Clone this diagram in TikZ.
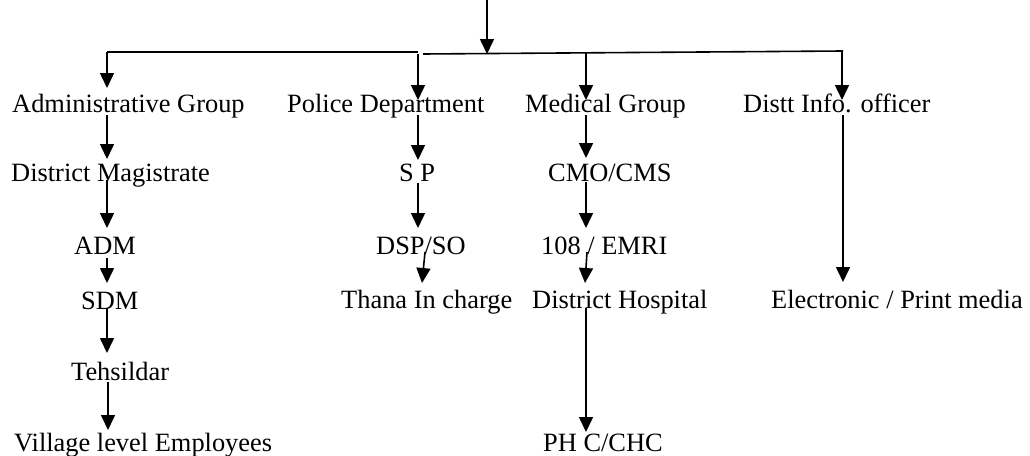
\documentclass[tikz,border=0pt]{standalone}
\usepackage{fontspec}
\setmainfont{Liberation Serif}
\usetikzlibrary{arrows.meta}
\tikzset{
  lbl/.style={anchor=base west, inner sep=0pt, font=\fontsize{26.4}{30}\selectfont},
  arr/.style={-{Triangle[length=15pt,width=14pt]}, line width=1.6pt},
  bar/.style={line width=1.6pt}
}
\begin{document}
\begin{tikzpicture}[x=1pt,y=-1pt]
\useasboundingbox (0,0) rectangle (1030,455);
% labels
\node[lbl] (ag) at (12,112) {Administrative Group};
\node[lbl] (pd) at (287,112) {Police Department};
\node[lbl] (mg) at (525,112) {Medical Group};
\node[lbl] (dio) at (743,112) {Distt Info. officer};
\node[lbl] (dm) at (11,181) {District Magistrate};
\node[lbl] (sp) at (399,181) {S P};
\node[lbl] (cmo) at (548,181) {CMO/CMS};
\node[lbl] (adm) at (74,254) {ADM};
\node[lbl] (dsp) at (376,254) {DSP/SO};
\node[lbl] (emri) at (541,254) {108 / EMRI};
\node[lbl] (sdm) at (81,309) {SDM};
\node[lbl] (thana) at (341,308) {Thana In charge};
\node[lbl] (dh) at (532,308) {District Hospital};
\node[lbl] (epm) at (771,308) {Electronic / Print media};
\node[lbl] (teh) at (71,380) {Tehsildar};
\node[lbl] (vle) at (14,451) {Village level Employees};
\node[lbl] (phc) at (543,451) {PH C/CHC};
% named coordinates for connector ends
\coordinate (top) at (487,-2);
\coordinate (topT) at (487,54);
\coordinate (hL) at (107,52);
\coordinate (hM) at (418,52);
\coordinate (hN) at (423,54);
\coordinate (hR) at (843,51);
\coordinate (hP) at (418,54);
\coordinate (hMed) at (586,53);
\coordinate (hD) at (842,51);
% top level
\draw[arr] (top) -- (topT);
\draw[bar] (hL) -- (hM);
\draw[bar] (hN) -- (hR);
\draw[arr] (hL) -- (107,88);
\draw[arr] (hP) -- (418,100);
\draw[arr] (hMed) -- (586,100);
\draw[arr] (hD) -- (842,100);
% administrative chain
\draw[arr] (107,115) -- (107,159);
\draw[arr] (107,180) -- (107,228);
\draw[arr] (107,258) -- (107,283);
\draw[arr] (107,308) -- (107,353);
\draw[arr] (108,382) -- (108,430);
% police chain
\draw[arr] (418,115) -- (418,160);
\draw[arr] (418,183) -- (418,228);
\draw[arr] (425,252) -- (422,283);
% medical chain
\draw[arr] (586,115) -- (586,158);
\draw[arr] (586,182) -- (586,228);
\draw[arr] (587,252) -- (585,283);
\draw[arr] (586,308) -- (586,432);
% info chain
\draw[arr] (843,115) -- (843,282);
\end{tikzpicture}
\end{document}
